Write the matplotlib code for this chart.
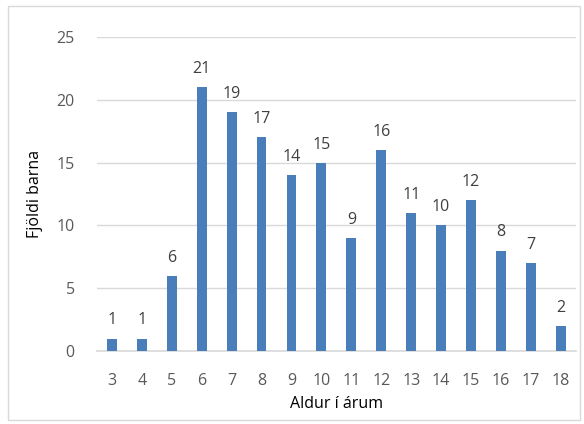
import matplotlib.pyplot as plt
from matplotlib.patches import Rectangle

ages = [3, 4, 5, 6, 7, 8, 9, 10, 11, 12, 13, 14, 15, 16, 17, 18]
counts = [1, 1, 6, 21, 19, 17, 14, 15, 9, 16, 11, 10, 12, 8, 7, 2]

plt.rcParams['font.family'] = ['Open Sans', 'DejaVu Sans']

fig = plt.figure(figsize=(5.84, 4.24), dpi=100)
ax = fig.add_axes([0.166, 0.172, 0.82, 0.741])

x = list(range(len(ages)))
bars = ax.bar(x, counts, width=0.33, color='#4A7EBB', zorder=3)
for xi, c in zip(x, counts):
    ax.text(xi, c + 0.8, str(c), ha='center', va='bottom', fontsize=11.5, color='#404040')

ax.set_xlim(-0.5, len(ages) - 0.5)
ax.set_ylim(0, 25)
ax.set_yticks(range(0, 26, 5))
ax.set_xticks(x)
ax.set_xticklabels([str(a) for a in ages])
ax.tick_params(axis='both', length=0, labelsize=11.5, labelcolor='#595959')
ax.tick_params(axis='x', pad=16)
ax.tick_params(axis='y', pad=16)
ax.grid(axis='y', color='#D9D9D9', linewidth=1, zorder=0)
for s in ['top', 'right', 'left']:
    ax.spines[s].set_visible(False)
ax.spines['bottom'].set_color('#D9D9D9')
ax.spines['bottom'].set_linewidth(1.2)

ax.set_xlabel('Aldur í árum', fontsize=11.5, labelpad=5)
ax.set_ylabel('Fjöldi barna', fontsize=11.5, labelpad=10)

fig.patches.append(Rectangle((8 / 584, 4 / 424), 572 / 584, 414 / 424,
                             transform=fig.transFigure, fill=False,
                             edgecolor='#D9D9D9', linewidth=1))

fig.savefig('out.png', dpi=100)
